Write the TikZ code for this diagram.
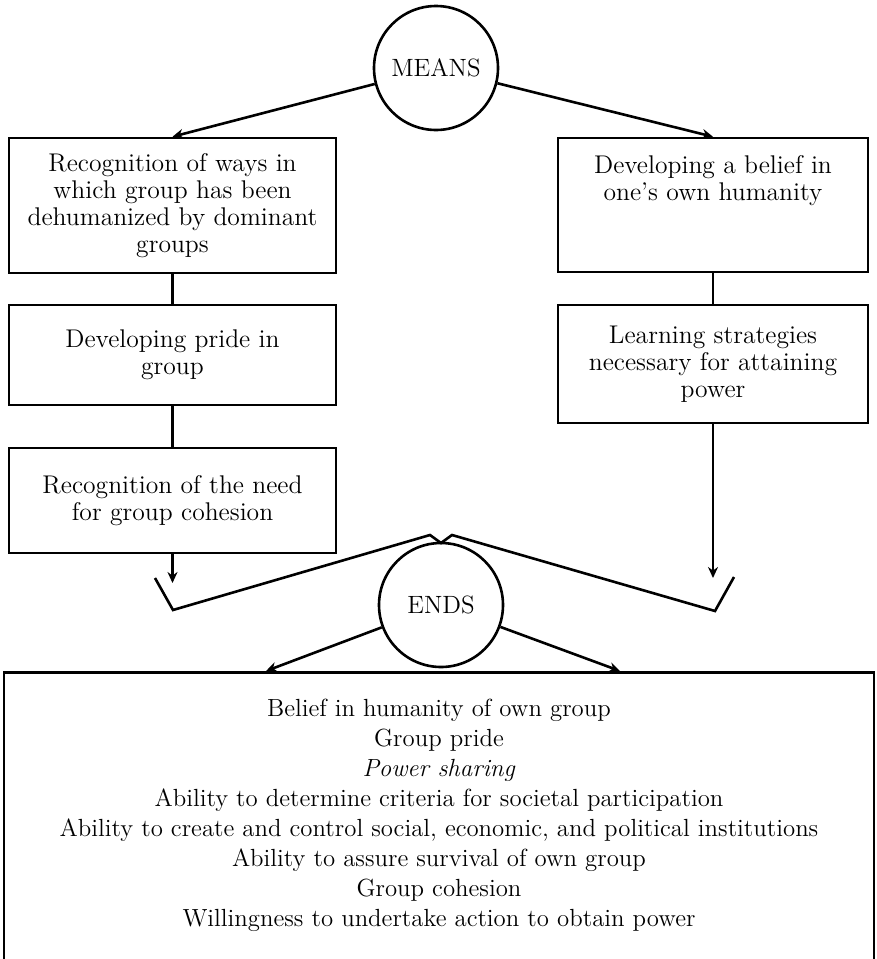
\documentclass[tikz,border=0pt]{standalone}
\usetikzlibrary{calc,arrows.meta}

\tikzset{
  hub/.style={draw, circle, line width=1.3pt, minimum size=62pt, inner sep=0pt,
    font=\fontsize{12.5}{14}\selectfont},
  stage/.style={draw, line width=1.3pt, align=center, inner sep=0pt,
    font=\fontsize{12.8}{13.6}\selectfont},
  link/.style={line width=1.3pt},
  flow/.style={line width=1.3pt, -{Stealth[length=5.5pt,width=5pt]}},
}

\begin{document}
\begin{tikzpicture}[x=0.5pt,y=-0.5pt]
    \useasboundingbox (0,0) rectangle (877,959);

    % the two circles
    \node[hub] (means) at (436,68) {MEANS};
    \node[hub] (ends) at (441,605) {ENDS};

    % left column
    \node[stage, minimum width=163.5pt, minimum height=67.5pt] (recog) at (172.5,205.5)
        {Recognition of ways in\\ which group has been\\ dehumanized by dominant\\ groups};
    \node[stage, minimum width=163.5pt, minimum height=50pt] (pride) at (172.5,355)
        {Developing pride in\\ group};
    \node[stage, minimum width=163.5pt, minimum height=52.5pt] (cohesion) at (172.5,500.5)
        {Recognition of the need\\ for group cohesion};

    % right column
    \node[stage, minimum width=155pt, minimum height=67pt] (belief) at (713,205)
        {Developing a belief in\\ one's own humanity\\ \mbox{}\\ \mbox{}};
    \node[stage, minimum width=155pt, minimum height=59pt] (strat) at (713,364)
        {Learning strategies\\ necessary for attaining\\ power};

    % ends box, cut off by the page edge
    \node[draw, line width=1.3pt, minimum width=435pt, minimum height=152pt, anchor=north]
        (goalbox) at (439,671) {};
    \node[align=center, font=\fontsize{12.4}{15}\selectfont] (goals) at (439,815)
        {Belief in humanity of own group\\
         Group pride\\
         \textit{Power sharing}\\
         Ability to determine criteria for societal participation\\
         Ability to create and control social, economic, and political institutions\\
         Ability to assure survival of own group\\
         Group cohesion\\
         Willingness to undertake action to obtain power};

    \coordinate (drop1) at (172.5,583);
    \coordinate (drop2) at (713,578);
    \coordinate (land1) at (266,671);
    \coordinate (land2) at (620,671);

    \draw[flow] (means) -- (recog.north);
    \draw[flow] (means) -- (belief.north);
    \draw[link] (recog) -- (pride);
    \draw[link] (pride) -- (cohesion);
    \draw[link] (belief) -- (strat);
    \draw[flow] (cohesion) -- (drop1);
    \draw[flow] (strat) -- (drop2);

    % funnel
    \draw[link] (155,578) -- (173,610) -- (430,535) -- (441,543) -- (452,535)
        -- (715,611) -- (734,577);

    \draw[flow] (ends) -- (land1);
    \draw[flow] (ends) -- (land2);
\end{tikzpicture}
\end{document}
